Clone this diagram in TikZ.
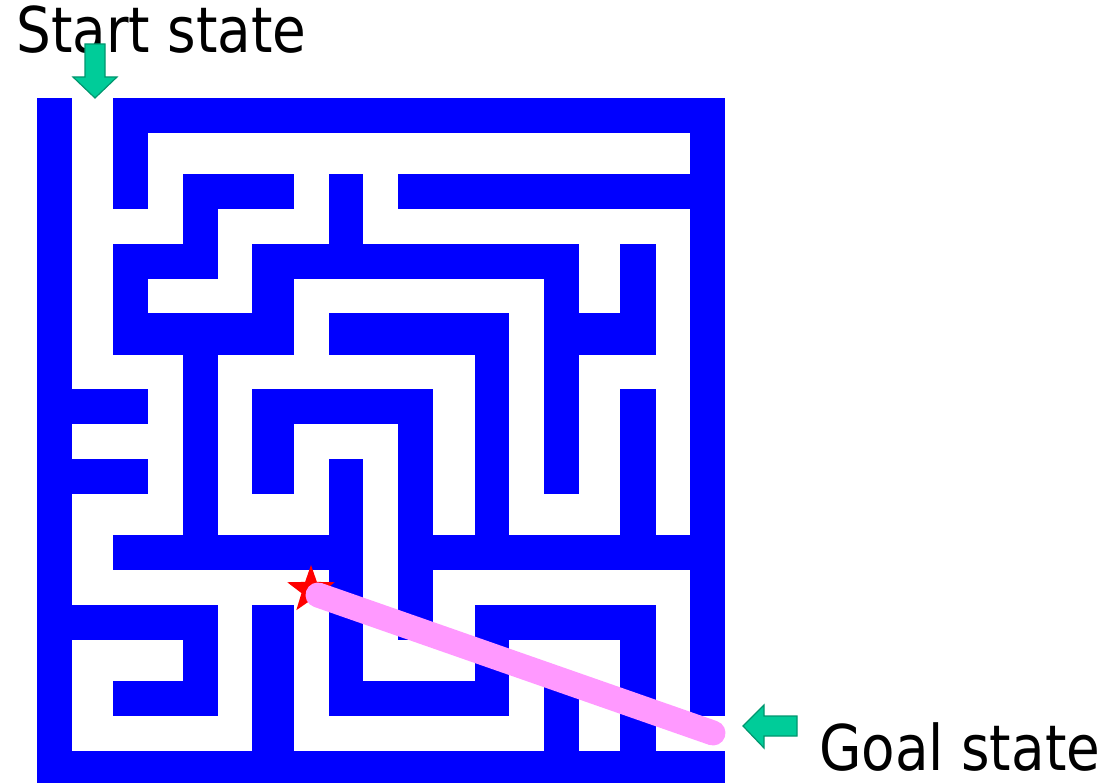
\documentclass[tikz,border=0pt]{standalone}
\usepackage{fontspec}
\newfontfamily\lblfont[FakeStretch=0.87]{DejaVu Sans}
\definecolor{mazeblue}{RGB}{0,0,255}
\definecolor{pathpink}{RGB}{255,153,255}
\definecolor{arrowfill}{RGB}{0,204,153}
\definecolor{arrowline}{RGB}{0,150,110}
\def\mzX{{37,72,113,148,183,218,252,294,329,363,398,433,475,509,544,579,620,656,690,725}}
\def\mzY{{98,133,174,209,244,279,313,355,389,424,459,494,535,570,605,640,681,716,751,783}}
\begin{document}
\begin{tikzpicture}[x=1pt,y=-1pt,
  wall/.style={fill=mazeblue},
  pinkpath/.style={draw=pathpink,line width=25pt,line cap=round},
  garrow/.style={fill=arrowfill,draw=arrowline,line width=1.2pt,line join=miter},
  lbl/.style={font=\lblfont\fontsize{63}{70}\selectfont,inner sep=0pt,anchor=base west,text=black},
  starfill/.style={fill=red}]
\useasboundingbox (0,0) rectangle (1119,783);
% maze walls: row / first column / last column
\foreach \r/\a/\b in {
  0/0/0, 0/2/18,
  1/0/0, 1/2/2, 1/18/18,
  2/0/0, 2/2/2, 2/4/6, 2/8/8, 2/10/18,
  3/0/0, 3/4/4, 3/8/8, 3/18/18,
  4/0/0, 4/2/4, 4/6/14, 4/16/16, 4/18/18,
  5/0/0, 5/2/2, 5/6/6, 5/14/14, 5/16/16, 5/18/18,
  6/0/0, 6/2/6, 6/8/12, 6/14/16, 6/18/18,
  7/0/0, 7/4/4, 7/12/12, 7/14/14, 7/18/18,
  8/0/2, 8/4/4, 8/6/10, 8/12/12, 8/14/14, 8/16/16, 8/18/18,
  9/0/0, 9/4/4, 9/6/6, 9/10/10, 9/12/12, 9/14/14, 9/16/16, 9/18/18,
  10/0/2, 10/4/4, 10/6/6, 10/8/8, 10/10/10, 10/12/12, 10/14/14, 10/16/16, 10/18/18,
  11/0/0, 11/4/4, 11/8/8, 11/10/10, 11/12/12, 11/16/16, 11/18/18,
  12/0/0, 12/2/8, 12/10/18,
  13/0/0, 13/8/8, 13/10/10, 13/18/18,
  14/0/4, 14/6/6, 14/8/8, 14/10/10, 14/12/16, 14/18/18,
  15/0/0, 15/4/4, 15/6/6, 15/8/8, 15/12/12, 15/16/16, 15/18/18,
  16/0/0, 16/2/4, 16/6/6, 16/8/12, 16/14/14, 16/16/16, 16/18/18,
  17/0/0, 17/6/6, 17/14/14, 17/16/16,
  18/0/18}{
  \pgfmathsetmacro\xa{\mzX[\a]}
  \pgfmathsetmacro\xb{\mzX[\b+1]}
  \pgfmathsetmacro\ya{\mzY[\r]}
  \pgfmathsetmacro\yb{\mzY[\r+1]}
  \fill[wall] (\xa-0.3,\ya-0.3) rectangle (\xb+0.3,\yb+0.3);
}
% labels
\node[lbl] (start) at (16,53) {Start state};
\node[lbl] (goal) at (819,770) {Goal state};
% start arrow (pointing down)
\draw[garrow] (85,44) -- (105,44) -- (105,77) -- (117,77) -- (95,98) -- (73,77) -- (85,77) -- cycle;
% goal arrow (pointing left)
\draw[garrow] (743,726) -- (764,705) -- (764,716) -- (797,716) -- (797,736) -- (764,736) -- (764,748) -- cycle;
% star
\coordinate (starc) at (311,590);
\fill[starfill,shift={(starc)}] (-90:25) -- (-54:10) -- (-18:25) -- (18:10) -- (54:25) -- (90:10) -- (126:25) -- (162:10) -- (198:25) -- (234:10) -- cycle;
% straight-line path
\coordinate (pa) at (318,595);
\coordinate (pb) at (713,733);
\draw[pinkpath] (pa) -- (pb);
\end{tikzpicture}
\end{document}
